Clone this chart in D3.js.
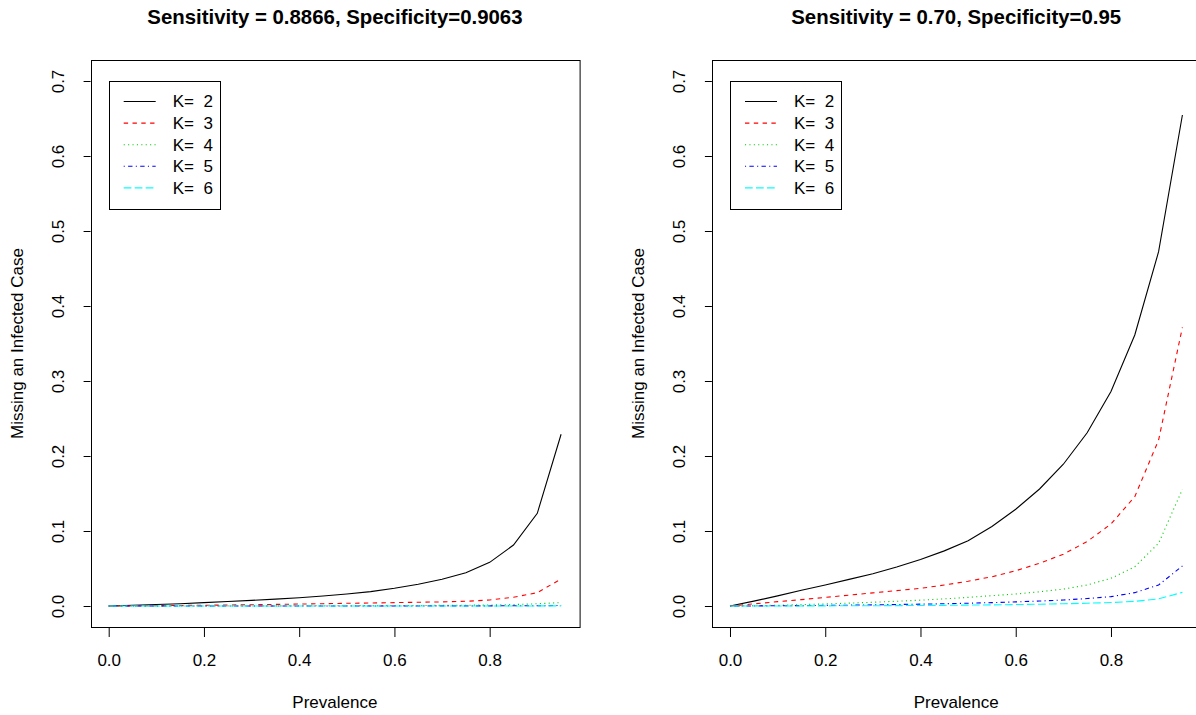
<!DOCTYPE html>
<html>
<head>
<meta charset="utf-8">
<script src="https://cdn.jsdelivr.net/npm/d3@7"></script>
<style>
  html, body { margin: 0; padding: 0; background: #fff; }
  svg { display: block; font-family: "Liberation Sans", Arial, Helvetica, sans-serif; }
  text { white-space: pre; }
</style>
</head>
<body>
<svg id="chart" width="1196" height="715"></svg>
<script>
// ---------- data ----------
const prevalence = [0, 0.05, 0.10, 0.15, 0.20, 0.25, 0.30, 0.35, 0.40, 0.45,
                    0.50, 0.55, 0.60, 0.65, 0.70, 0.75, 0.80, 0.85, 0.90, 0.95];

const titles = ["Sensitivity = 0.8866, Specificity=0.9063",
                "Sensitivity = 0.70, Specificity=0.95"];
const legendLabels = ["K=  2", "K=  3", "K=  4", "K=  5", "K=  6"];
const xTicks = [0, 0.2, 0.4, 0.6, 0.8];
const yTicks = [0, 0.1, 0.2, 0.3, 0.4, 0.5, 0.6, 0.7];
const xLabel = "Prevalence";
const yLabel = "Missing an Infected Case";

// Panel 1: Sensitivity = 0.8866, Specificity = 0.9063
const p1_K2 = [0, 0.0010, 0.0020, 0.0030, 0.0045, 0.0060, 0.0075, 0.0092, 0.0110, 0.0133,
               0.0160, 0.0192, 0.0236, 0.0290, 0.0356, 0.0444, 0.0582, 0.0813, 0.1236, 0.2290];
const p1_K3 = [0, 0.0002, 0.0004, 0.0007, 0.0010, 0.0013, 0.0017, 0.0021, 0.0026, 0.0031,
               0.0036, 0.0040, 0.0045, 0.0050, 0.0055, 0.0063, 0.0080, 0.0116, 0.0178, 0.0360];
const p1_K4 = [0, 0, 0, 0.0001, 0.0001, 0.0001, 0.0002, 0.0002, 0.0003, 0.0003,
               0.0004, 0.0005, 0.0006, 0.0007, 0.0008, 0.0010, 0.0013, 0.0019, 0.0030, 0.0046];
const p1_K5 = [0, 0, 0, 0, 0, 0, 0, 0, 0.0001, 0.0001,
               0.0001, 0.0001, 0.0001, 0.0001, 0.0002, 0.0002, 0.0002, 0.0003, 0.0004, 0.0007];
const p1_K6 = [0, 0, 0, 0, 0, 0, 0, 0, 0, 0,
               0, 0, 0, 0, 0, 0, 0.0001, 0.0001, 0.0001, 0.0002];

// Panel 2: Sensitivity = 0.70, Specificity = 0.95
const p2_K2 = [0, 0.0065, 0.0135, 0.0210, 0.0280, 0.0355, 0.0430, 0.0520, 0.0620, 0.0735,
               0.0870, 0.1060, 0.1290, 0.1560, 0.1890, 0.2310, 0.2860, 0.3613, 0.4724, 0.6547];
const p2_K3 = [0, 0.0028, 0.0058, 0.0085, 0.0115, 0.0145, 0.0175, 0.0205, 0.0235, 0.0280,
               0.0330, 0.0390, 0.0470, 0.0570, 0.0690, 0.0860, 0.1093, 0.1458, 0.2213, 0.3716];
const p2_K4 = [0, 0.0005, 0.0010, 0.0018, 0.0028, 0.0038, 0.0050, 0.0063, 0.0078, 0.0095,
               0.0115, 0.0138, 0.0160, 0.0190, 0.0225, 0.0280, 0.0369, 0.0524, 0.0836, 0.1556];
const p2_K5 = [0, 0.0001, 0.0003, 0.0005, 0.0008, 0.0011, 0.0015, 0.0020, 0.0025, 0.0030,
               0.0037, 0.0045, 0.0055, 0.0066, 0.0080, 0.0099, 0.0125, 0.0178, 0.0280, 0.0533];
const p2_K6 = [0, 0, 0.0001, 0.0001, 0.0002, 0.0003, 0.0004, 0.0005, 0.0007, 0.0009,
               0.0012, 0.0015, 0.0019, 0.0024, 0.0030, 0.0037, 0.0046, 0.0062, 0.0095, 0.0182];

const panels = [
  { title: titles[0], series: [p1_K2, p1_K3, p1_K4, p1_K5, p1_K6] },
  { title: titles[1], series: [p2_K2, p2_K3, p2_K4, p2_K5, p2_K6] }
];

// ---------- styles ----------
const colors = ["#000000", "#FF0000", "#00CD00", "#0000FF", "#00FFFF"];
const dashes = [null, "4.4,4.4", "1.1,3.3", "1.1,3.3,4.4,3.3", "7.7,3.3"];

// ---------- layout ----------
const svg = d3.select("#chart");
const plotW = 488.6;
const plotLefts = [90.6, 711.9];
const plotTop = 60, plotBottom = 627;
const xDomain = [-0.038, 0.988];
const yDomain = [-0.028, 0.728];
const fontSize = 17;

panels.forEach((panel, pi) => {
  const left = plotLefts[pi];
  const x = d3.scaleLinear().domain(xDomain).range([left, left + plotW]);
  const y = d3.scaleLinear().domain(yDomain).range([plotBottom, plotTop]);
  const g = svg.append("g");

  // title
  g.append("text")
    .attr("x", left + plotW / 2)
    .attr("y", 24)
    .attr("text-anchor", "middle")
    .attr("font-weight", "bold")
    .attr("font-size", 20.4)
    .attr("fill", "#000")
    .text(panel.title);

  // x axis
  const xAxis = d3.axisBottom(x).tickValues(xTicks).tickSize(10).tickPadding(17)
    .tickFormat(d3.format(".1f"));
  const gx = g.append("g").attr("transform", `translate(0,${plotBottom})`).call(xAxis);
  gx.select(".domain").remove();
  gx.selectAll("line").attr("stroke", "#000");
  gx.selectAll("text").attr("font-size", fontSize).attr("font-family", null).attr("fill", "#000");
  gx.append("line")
    .attr("x1", x(xTicks[0])).attr("x2", x(xTicks[xTicks.length - 1]))
    .attr("y1", 0.5).attr("y2", 0.5).attr("stroke", "#000");

  // y axis
  const yAxis = d3.axisLeft(y).tickValues(yTicks).tickSize(7).tickFormat(d3.format(".1f"));
  const gy = g.append("g").attr("transform", `translate(${left},0)`).call(yAxis);
  gy.select(".domain").remove();
  gy.selectAll("line").attr("stroke", "#000");
  gy.selectAll("text")
    .attr("x", null).attr("dy", "0.35em")
    .attr("transform", "translate(-33,0) rotate(-90)")
    .attr("text-anchor", "middle")
    .attr("font-size", fontSize).attr("font-family", null).attr("fill", "#000");

  // axis titles
  g.append("text")
    .attr("x", left + plotW / 2).attr("y", 708)
    .attr("text-anchor", "middle").attr("font-size", fontSize)
    .text(xLabel);
  g.append("text")
    .attr("transform", `translate(${left - 74},${(plotTop + plotBottom) / 2}) rotate(-90)`)
    .attr("dy", "0.35em")
    .attr("text-anchor", "middle").attr("font-size", fontSize)
    .text(yLabel);

  // series
  const line = d3.line().x((d, i) => x(prevalence[i])).y(d => y(d));
  panel.series.forEach((s, si) => {
    g.append("path")
      .datum(s)
      .attr("d", line)
      .attr("fill", "none")
      .attr("stroke", colors[si])
      .attr("stroke-width", 1.1)
      .attr("stroke-dasharray", dashes[si]);
  });

  // box
  g.append("rect")
    .attr("x", Math.round(left) + 0.5).attr("y", plotTop + 0.5)
    .attr("width", plotW).attr("height", plotBottom - plotTop)
    .attr("fill", "none").attr("stroke", "#000").attr("stroke-width", 1);

  // legend
  const lx = x(0), ly = y(0.7);
  const lg = g.append("g");
  lg.append("rect")
    .attr("x", Math.round(lx) + 0.5).attr("y", Math.round(ly) + 0.5)
    .attr("width", 111).attr("height", 128)
    .attr("fill", "#fff").attr("stroke", "#000");
  legendLabels.forEach((lab, li) => {
    const ry = ly + 20.5 + li * 21.6;
    lg.append("line")
      .attr("x1", lx + 15).attr("x2", lx + 47)
      .attr("y1", ry).attr("y2", ry)
      .attr("stroke", colors[li]).attr("stroke-width", 1.1)
      .attr("stroke-dasharray", dashes[li]);
    lg.append("text")
      .attr("x", lx + 64).attr("y", ry).attr("dy", "0.35em")
      .attr("font-size", fontSize)
      .text(lab);
  });
});
</script>
</body>
</html>
